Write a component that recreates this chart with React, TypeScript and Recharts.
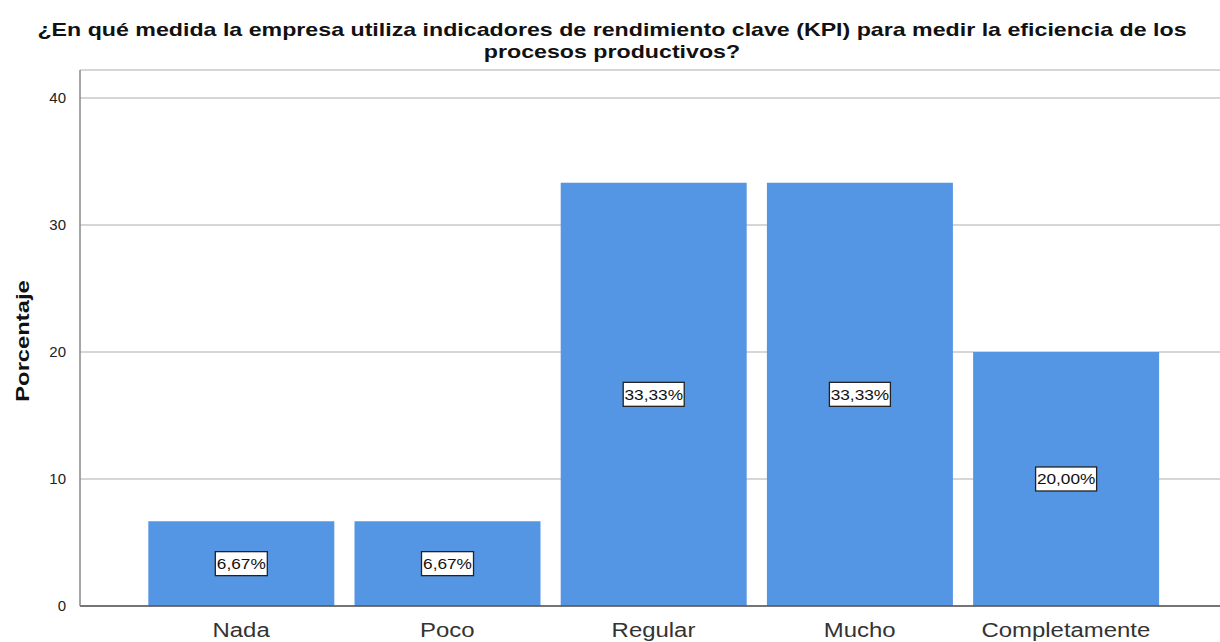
import { Bar, BarChart, CartesianGrid, LabelList, XAxis, YAxis } from "recharts";

const categories = ["Nada", "Poco", "Regular", "Mucho", "Completamente"];
const percentages = [6.67, 6.67, 33.33, 33.33, 20.0];
const yTicks = [0, 10, 20, 30, 40];

const data = categories.map((name, i) => ({ name, value: percentages[i] }));

const FONT = "'Liberation Sans', Arial, sans-serif";
const fmt = (v: number) => v.toFixed(2).replace(".", ",") + "%";

// the source renders its text noticeably wider than Arial, so stretch it a bit
function BoxLabel(props: any) {
	const { x, y, width, height, value } = props;
	const text = fmt(Number(value));
	const w = text.length * 9 + 7;
	const h = 24;
	const cx = x + width / 2;
	const cy = y + height / 2;
	return (
		<g>
			<rect x={cx - w / 2} y={cy - h / 2} width={w} height={h} fill="#fff" stroke="#222" strokeWidth={1.3} />
			<text
				transform={`translate(${cx},${cy + 5.5}) scale(1.15,1)`}
				textAnchor="middle"
				fontSize={15}
				fill="#111"
				fontFamily={FONT}
			>
				{text}
			</text>
		</g>
	);
}

function CatTick(props: any) {
	const { x, y, payload } = props;
	return (
		<text transform={`translate(${x},${y + 31}) scale(1.14,1)`} textAnchor="middle" fontSize={21} fill="#333" fontFamily={FONT}>
			{payload.value}
		</text>
	);
}

export default function App() {
	return (
		<div style={{ position: "absolute", left: 0, top: 0, width: 1220, height: 642, background: "#fff", fontFamily: FONT }}>
			<div
				style={{
					position: "absolute",
					left: 2,
					top: 19,
					width: 1220,
					textAlign: "center",
					fontWeight: "bold",
					fontSize: 19,
					lineHeight: "22px",
					color: "#111",
					transform: "scaleX(1.22)",
					transformOrigin: "center",
					whiteSpace: "nowrap",
				}}
			>
				¿En qué medida la empresa utiliza indicadores de rendimiento clave (KPI) para medir la eficiencia de los
				<br />
				procesos productivos?
			</div>
			<div
				style={{
					position: "absolute",
					left: 23,
					top: 341,
					transform: "translate(-50%, -50%) rotate(-90deg) scaleX(1.25)",
					fontWeight: "bold",
					fontSize: 19,
					color: "#111",
					whiteSpace: "nowrap",
				}}
			>
				Porcentaje
			</div>
			<div style={{ position: "absolute", left: 0, top: 0 }}>
				<BarChart width={1220} height={642} data={data} margin={{ top: 70, right: 0, bottom: 0, left: 0 }} barCategoryGap="5%">
					<CartesianGrid horizontal vertical={false} stroke="#c8c8c8" strokeWidth={1.5} />
					<XAxis
						dataKey="name"
						height={36}
						padding={{ left: 58, right: 51 }}
						tickLine={false}
						tickSize={0}
						tickMargin={0}
						axisLine={{ stroke: "#555", strokeWidth: 1.5 }}
						tick={<CatTick />}
					/>
					<YAxis
						width={80}
						domain={[0, 42.2]}
						ticks={yTicks}
						tickLine={false}
						axisLine={{ stroke: "#888", strokeWidth: 1.5 }}
						tick={{ fill: "#222", fontSize: 15 }}
						tickMargin={8}
					/>
					<Bar dataKey="value" fill="#5596e4" isAnimationActive={false}>
						<LabelList dataKey="value" content={<BoxLabel />} />
					</Bar>
				</BarChart>
			</div>
		</div>
	);
}
